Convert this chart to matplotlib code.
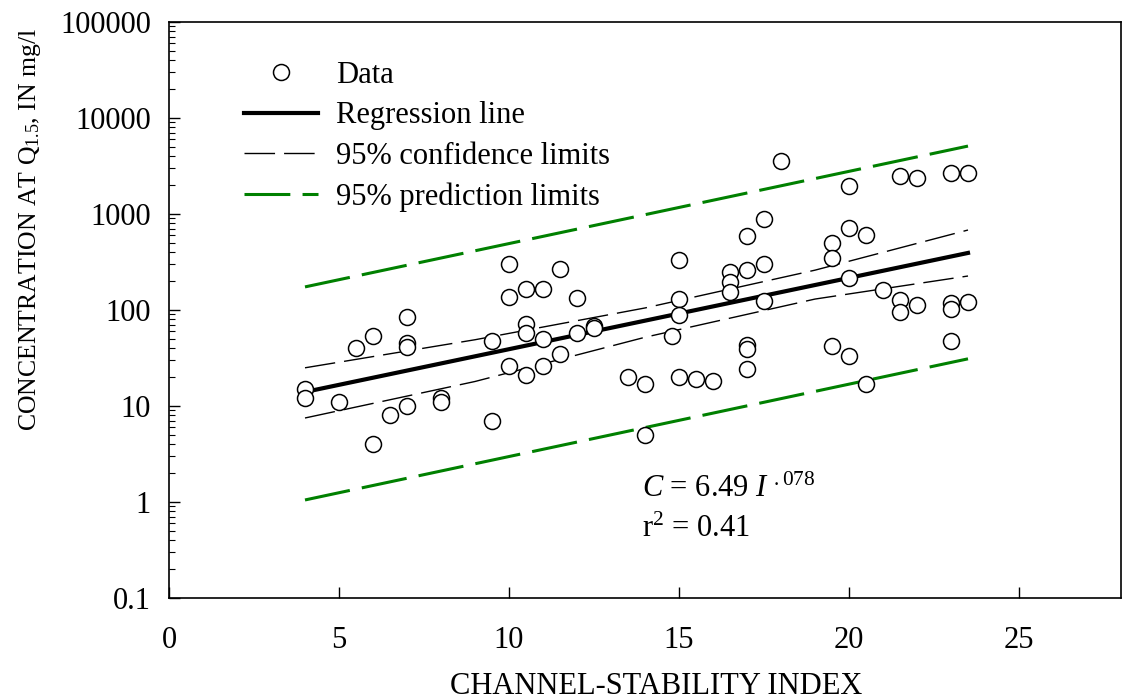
import matplotlib
matplotlib.use("Agg")
import matplotlib.pyplot as plt
from matplotlib.ticker import LogLocator, NullFormatter, FixedLocator

plt.rcParams['font.family'] = ['Liberation Serif', 'DejaVu Serif']
plt.rcParams['mathtext.fontset'] = 'custom'
plt.rcParams['mathtext.rm'] = 'Liberation Serif'
plt.rcParams['mathtext.it'] = 'Liberation Serif:italic'

# channel-stability index and concentration
index = [4, 4, 5, 5.5, 6, 6, 6.5, 7, 7, 7, 7, 8, 8, 9.5, 9.5,
         10, 10, 10, 10.5, 10.5, 10.5, 10.5, 11, 11, 11, 11.5, 11.5,
         12, 12, 12.5, 12.5, 13.5, 14, 14, 14.8, 15, 15, 15, 15,
         15.5, 16, 16.5, 16.5, 16.5, 17, 17, 17, 17, 17,
         17.5, 17.5, 17.5, 18, 19.5, 19.5, 19.5, 20, 20, 20, 20,
         20.5, 20.5, 21, 21.5, 21.5, 21.5, 22, 22, 23, 23, 23, 23,
         23.5, 23.5]
conc = [15, 12, 11, 40, 54, 4, 8, 85, 45, 41, 10, 12, 11, 7, 48,
        300, 138, 26, 165, 71, 58, 21, 165, 50, 26, 270, 35,
        133, 57, 68, 65, 20, 17, 5, 54, 330, 130, 88, 20,
        19, 18, 250, 195, 155, 590, 260, 43, 39, 24,
        880, 300, 124, 3600, 500, 350, 42, 1950, 720, 215, 33,
        600, 17, 162, 2500, 128, 95, 2350, 112, 2700, 118, 102, 47,
        2700, 120]

reg_x = [4, 23.5]
reg_y = [14, 393]

conf_x = [4, 9, 14, 19, 23.5]
conf_upper = [25, 49, 105, 260, 681]
conf_lower = [7.5, 18, 52, 130, 226]

pred_x = [4, 23.5]
pred_upper = [174, 5100]
pred_lower = [1.05, 31]

fig = plt.figure(figsize=(11.23, 7), dpi=100)
ax = fig.add_axes([169 / 1123, 102 / 700, 952 / 1123, 576 / 700])

ax.plot(index, conc, 'o', mfc='white', mec='black', mew=1.1, ms=11.5,
        label='Data', zorder=5)
ax.plot(reg_x, reg_y, color='black', lw=3, label='Regression line')
ax.plot(conf_x, conf_upper, color='black', lw=1, dashes=(22, 6.5),
        label='95% confidence limits')
ax.plot(conf_x, conf_lower, color='black', lw=1, dashes=(22, 6.5))
ax.plot(pred_x, pred_upper, color='#008000', lw=2.2, dashes=(15, 4),
        label='95% prediction limits')
ax.plot(pred_x, pred_lower, color='#008000', lw=2.2, dashes=(15, 4))

ax.set_yscale('log')
ax.set_xlim(0, 28)
ax.set_ylim(0.1, 100000)
ax.xaxis.set_major_locator(FixedLocator([0, 5, 10, 15, 20, 25]))
ax.yaxis.set_minor_locator(LogLocator(base=10, subs=range(2, 10)))
ax.yaxis.set_minor_formatter(NullFormatter())
ax.set_yticks([0.1, 1, 10, 100, 1000, 10000, 100000])
ax.set_yticklabels(['0.1', '1', '10', '100', '1000', '10000', '100000'])

ax.tick_params(axis='both', which='major', direction='in', length=8,
               width=1, labelsize=22, right=False, top=False)
ax.tick_params(axis='y', which='minor', direction='in', length=4.5, width=0.8)
ax.tick_params(axis='x', pad=20)
ax.tick_params(axis='y', pad=13)
for s in ax.spines.values():
    s.set_linewidth(1.2)

fig.text(656 / 1123, 1 - 694 / 700, 'CHANNEL-STABILITY INDEX', fontsize=22,
         ha='center', va='baseline')
fig.text(30 / 1123, 1 - 229 / 700, r'CONCENTRATION AT Q$_{1.5}$, IN mg/l',
         fontsize=18.5, rotation=90, ha='center', va='center')

ax.text(0.497, 0.175, r'$C$ = 6.49 $I$ $^{.078}$', transform=ax.transAxes,
        fontsize=22, ha='left', va='baseline')
ax.text(0.497, 0.106, r'r$^2$ = 0.41', transform=ax.transAxes,
        fontsize=22, ha='left', va='baseline')

ax.legend(loc='upper left', bbox_to_anchor=(0.079, 0.933), frameon=False,
          fontsize=22, handlelength=2.4, handletextpad=0.62, labelspacing=0.38,
          borderpad=0, borderaxespad=0)

fig.savefig('out.png', dpi=100)
